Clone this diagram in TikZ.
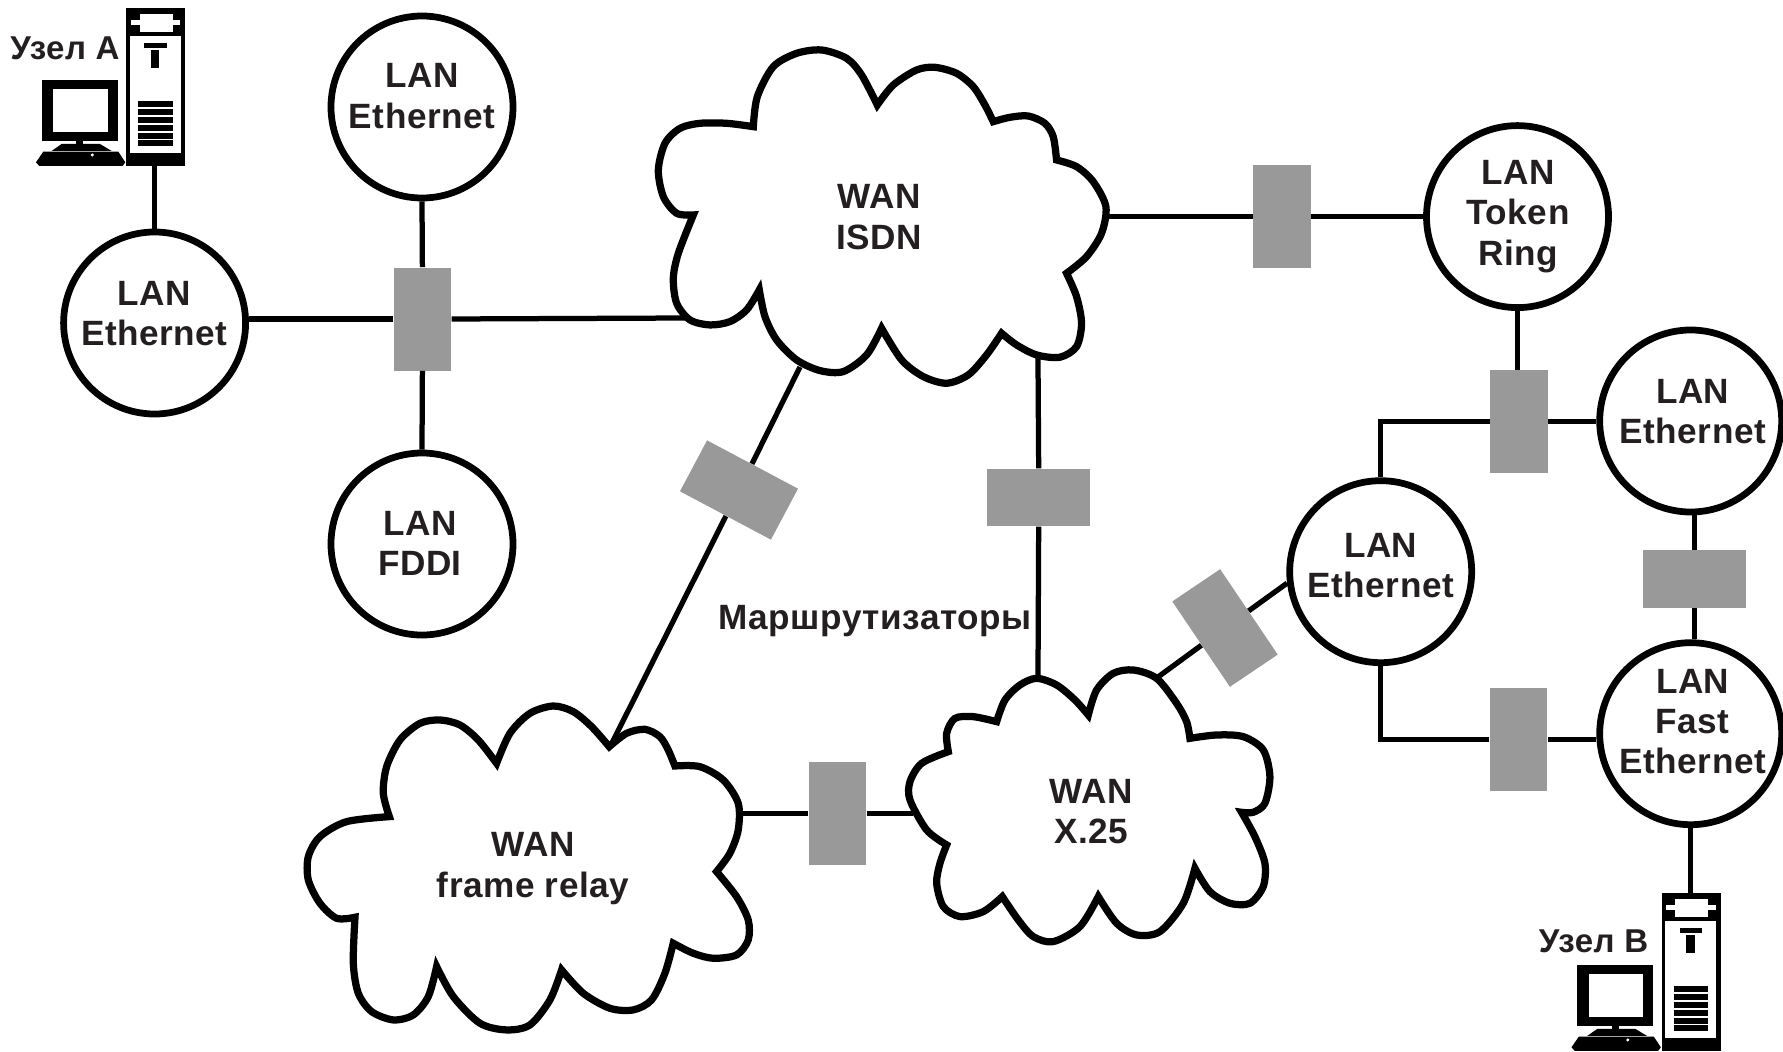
\documentclass[tikz,border=0pt]{standalone}
\usepackage{fontspec}
\setmainfont{Liberation Sans}[LetterSpace=1.5]
\usepackage{tikz}
\definecolor{routergray}{HTML}{999999}
\definecolor{inktext}{HTML}{231F20}
\tikzset{
  lan/.style={circle,draw=black,fill=white,line width=0.135cm,minimum size=3.64cm,inner sep=0pt},
  router/.style={rectangle,fill=routergray,minimum width=1.154cm,minimum height=2.06cm,inner sep=0pt},
  routerh/.style={rectangle,fill=routergray,minimum width=2.06cm,minimum height=1.154cm,inner sep=0pt},
  label/.style={text=inktext,font=\bfseries\fontsize{20}{23}\selectfont,align=center,inner sep=0pt},
  hostlabel/.style={label,font=\bfseries\fontsize{18.8}{23}\selectfont},
  link/.style={line width=0.105cm},
  cloud/.style={draw=black,fill=white,line width=0.145cm,miter limit=6},
  tower/.style={rectangle,fill=black,minimum width=1.186cm,minimum height=3.154cm,inner sep=0pt},
  zoomed/.style={x=0.03333cm,y=-0.03333cm},
  host/.pic={
    \begin{scope}[zoomed]
    \fill [white] (390,108) rectangle (543,460);
    \fill [white] (420,42) rectangle (518,97);
    \fill [white] (392,60) rectangle (541,75);
    \fill [black] (433,130) rectangle (500,143);
    \fill [black] (453,150) rectangle (478,205);
    \foreach \vent in {302,326,350,374,398,421} {
      \fill [black] (415,\vent) rectangle (518,\vent+18);
    }
    \fill [black] (125,240) rectangle (354,422);
    \fill [white] (159,267) rectangle (323,395);
    \fill [black] (229,420) rectangle (250,436);
    \fill [black] (155,453) -- (185,432) -- (300,432) -- (335,453) -- cycle;
    \fill [black] (130,455) -- (355,455) -- (376,487) -- (368,498) -- (118,498) -- (108,487) -- cycle;
    \fill [white] (277,465) circle (5);
    \end{scope}
  }
}
\begin{document}
\begin{tikzpicture}[scale=0.2]
\useasboundingbox (0,0) rectangle (178.3,-105.2);
\node [lan] (lanA) at (15.46,-32.3) {};
\node [label] (lanAtext) at (15.46,-31.35) {LAN\\Ethernet};
\node [lan] (lanB) at (42.2,-10.7) {};
\node [label] (lanBtext) at (42.2,-9.6) {LAN\\Ethernet};
\node [lan] (lanC) at (42.2,-54.4) {};
\node [label] (lanCtext) at (42,-54.35) {LAN\\FDDI};
\node [lan] (lanD) at (151.75,-21.66) {};
\node [label] (lanDtext) at (151.8,-21.65) {LAN\\Token\\Ring};
\node [lan] (lanE) at (169.07,-42.1) {};
\node [label] (lanEtext) at (169.27,-41.15) {LAN\\Ethernet};
\node [lan] (lanF) at (138.07,-57.17) {};
\node [label] (lanFtext) at (138.07,-56.55) {LAN\\Ethernet};
\node [lan] (lanG) at (169.07,-73.37) {};
\node [label] (lanGtext) at (169.27,-72.15) {LAN\\Fast\\Ethernet};
\node [router] (r1) at (42.24,-31.9) {};
\node [router] (r2) at (128.2,-21.66) {};
\node [router] (r3) at (151.88,-42.15) {};
\node [routerh] (r4) at (169.43,-57.93) {};
\node [router] (r5) at (151.85,-73.97) {};
\node [router] (r6) at (83.75,-81.36) {};
\node [routerh] (r7) at (103.87,-49.75) {};
\node [routerh,rotate=-28] (r8) at (73.9,-49) {};
\node [router,rotate=34] (r9) at (122.5,-62.8) {};
\begin{scope}[shift={(64,-3)},zoomed]
\draw [cloud] plot [smooth] coordinates {(340,290) (352,200) (400,110) (470,70) (545,60) (620,85) (665,135) (712,225)}
 -- plot [smooth] coordinates {(712,225) (760,165) (830,120) (885,112) (950,130) (1000,170) (1035,225) (1060,275)}
 -- plot [smooth] coordinates {(1060,275) (1110,262) (1165,258) (1215,280) (1240,320) (1250,390)}
 -- plot [smooth] coordinates {(1250,390) (1310,410) (1360,455) (1398,530) (1385,610) (1340,680) (1280,730)}
 -- plot [smooth] coordinates {(1280,730) (1310,800) (1325,880) (1310,950) (1260,982) (1190,975) (1130,945) (1085,910)}
 -- plot [smooth] coordinates {(1085,910) (1040,975) (985,1035) (920,1060) (850,1040) (785,990) (725,895)}
 -- plot [smooth] coordinates {(725,895) (680,975) (610,1025) (540,1022) (470,990) (410,930) (375,860) (358,780)}
 -- plot [smooth] coordinates {(358,780) (320,840) (270,875) (210,885) (150,870) (110,820) (100,745) (115,670) (160,555)}
 -- plot [smooth] coordinates {(160,555) (110,550) (70,500) (55,420) (75,340) (120,295) (180,280) (260,280) (340,290)}
 -- cycle;
\end{scope}
\begin{scope}[shift={(29,-68)},zoomed]
\draw [cloud] plot [smooth] coordinates {(298,410) (280,340) (290,260) (330,180) (390,130) (450,120) (510,135) (565,180) (620,250)}
 -- plot [smooth] coordinates {(620,250) (660,160) (720,100) (790,78) (850,95) (905,140) (958,200)}
 -- plot [smooth] coordinates {(958,200) (1010,160) (1065,148) (1110,170) (1135,210) (1155,258)}
 -- plot [smooth] coordinates {(1155,258) (1230,260) (1300,300) (1345,370) (1345,450) (1320,520) (1280,575)}
 -- plot [smooth] coordinates {(1280,575) (1340,650) (1375,720) (1375,780) (1340,825) (1270,835) (1210,820) (1150,790)}
 -- plot [smooth] coordinates {(1150,790) (1125,880) (1085,960) (1030,990) (960,985) (880,940) (815,870)}
 -- plot [smooth] coordinates {(815,870) (780,960) (720,1035) (650,1050) (570,1030) (490,950) (440,860)}
 -- plot [smooth] coordinates {(440,860) (415,950) (370,1005) (310,1020) (245,995) (205,940) (190,850) (195,712)}
 -- plot [smooth] coordinates {(195,712) (140,715) (90,670) (55,600) (55,530) (90,470) (170,425) (298,410)}
 -- cycle;
\end{scope}
\begin{scope}[shift={(89,-65)},zoomed]
\draw [cloud] plot [smooth] coordinates {(320,215) (345,150) (390,105) (440,85) (500,105) (555,150) (595,195)}
 -- plot [smooth] coordinates {(595,195) (620,120) (670,70) (730,60) (800,85) (860,160) (890,215) (900,265)}
 -- plot [smooth] coordinates {(900,265) (980,255) (1060,260) (1120,300) (1140,380) (1125,460) (1090,487) (1055,487)}
 -- plot [smooth] coordinates {(1055,487) (1095,560) (1125,640) (1120,710) (1080,760) (1020,760) (960,725) (915,655)}
 -- plot [smooth] coordinates {(915,655) (880,760) (810,845) (740,855) (680,820) (625,740)}
 -- plot [smooth] coordinates {(625,740) (570,830) (490,875) (430,860) (385,810) (337,740)}
 -- plot [smooth] coordinates {(337,740) (280,785) (210,800) (160,770) (140,700) (150,640) (170,585)}
 -- plot [smooth] coordinates {(170,585) (110,540) (60,450) (60,395) (95,340) (175,305)}
 -- plot [smooth] coordinates {(175,305) (170,250) (195,205) (250,200) (320,215)}
 -- cycle;
\end{scope}
\node [label] (wanISDN) at (87.9,-21.7) {WAN\\ISDN};
\node [label] (wanFrame) at (53.3,-86.85) {WAN\\frame relay};
\node [label] (wanX) at (109.15,-81.15) {WAN\\X.25};
\coordinate (isdnW) at (68.5,-31.8);
\coordinate (isdnE) at (110.8,-21.66);
\coordinate (isdnS) at (80,-36.7);
\coordinate (isdnB) at (103.8,-35.8);
\coordinate (frameN) at (61.2,-74.3);
\coordinate (frameE) at (74.2,-81.36);
\coordinate (xW) at (91.3,-81.36);
\coordinate (xN) at (103.8,-67.7);
\coordinate (xE) at (115.8,-67.7);
\node [tower] (hostA) at (15.57,-8.72) {};
\pic [transform shape] at (0,0) {host};
\node [tower] (hostB) at (169.12,-97.22) {};
\pic [transform shape] at (153.55,-88.5) {host};
\node [hostlabel] (nameA) at (6.5,-4.85) {Узел А};
\node [hostlabel] (nameB) at (159.35,-94.15) {Узел В};
\node [label] (routers) at (87.5,-62.1) {Маршрутизаторы};
\draw [link] (lanA.north) -- (lanA.north |- hostA.south);
\draw [link] (lanA.east |- r1.west) -- (r1.west);
\draw [link] (r1.east) -- (isdnW);
\draw [link] (lanB.south) -- (r1.north);
\draw [link] (r1.south) -- (lanC.north);
\draw [link] (isdnE) -- (r2.west);
\draw [link] (r2.east) -- (lanD.west);
\draw [link] (lanD.south) -- (lanD.south |- r3.north);
\draw [link] (r3.east) -- (lanE.west |- r3.east);
\draw [link] (r3.west) -| (lanF.north);
\draw [link] (lanE.south -| r4.north) -- (r4.north);
\draw [link] (r4.south) -- (r4.south |- lanG.north);
\draw [link] (r5.east) -- (lanG.west |- r5.east);
\draw [link] (r5.west) -| (lanF.south);
\draw [link] (lanG.south) -- (lanG.south |- hostB.north);
\draw [link] (frameE) -- (r6.west);
\draw [link] (r6.east) -- (xW);
\draw [link] (isdnB) -- (r7.north);
\draw [link] (r7.south) -- (xN);
\draw [link] (isdnS) -- (r8);
\draw [link] (r8) -- (frameN);
\draw [link] (xE) -- (r9);
\draw [link] (r9) -- (lanF.187);
\end{tikzpicture}
\end{document}
